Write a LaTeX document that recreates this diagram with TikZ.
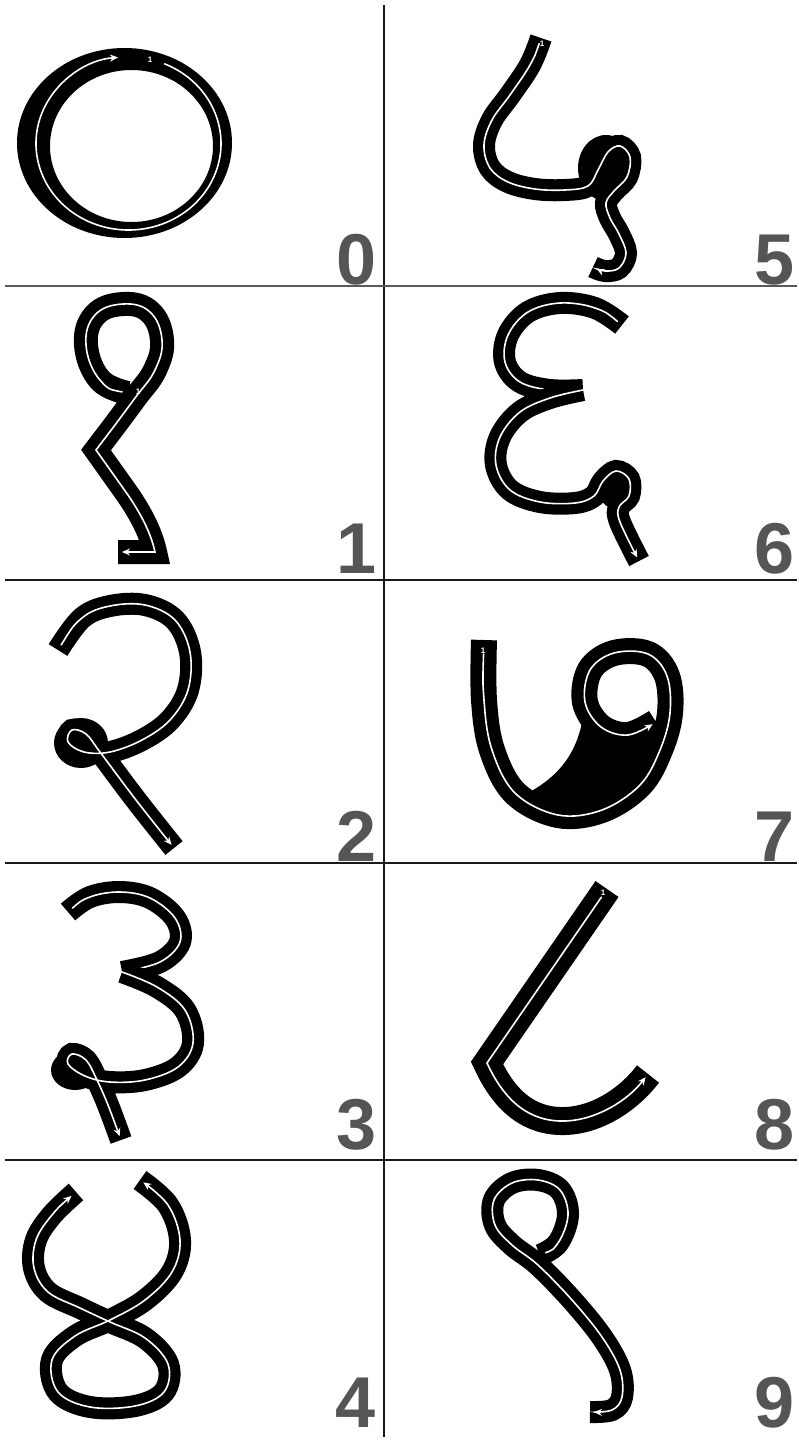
\documentclass[tikz,border=0pt]{standalone}
\usepackage{fontspec}
\setmainfont{Liberation Sans}
\usetikzlibrary{arrows.meta}
\definecolor{numgray}{HTML}{555555}

\begin{document}
\begin{tikzpicture}[x=1pt, y=-1pt,
  rule/.style={draw=black!90, line width=2.4pt},
  digit/.style={anchor=south east, inner sep=0pt, text=numgray,
    font=\fontsize{72}{72}\selectfont\bfseries},
  trace/.style={draw=white, line width=1.6pt, line cap=round,
    shorten <=6pt, shorten >=4pt},
  ink/.style={trace, preaction={draw=black, line width=#1, -,
    shorten <=0pt, shorten >=0pt, line cap=butt, line join=miter}},
  ink/.default=22pt,
  fwd/.style={-{Stealth[length=8pt, width=7pt]}},
  twoway/.style={{Stealth[length=8pt, width=7pt]}-{Stealth[length=8pt, width=7pt]}},
  mark1/.style={text=white, inner sep=0pt,
    font=\fontsize{8}{8}\selectfont\bfseries},
]
  \useasboundingbox[fill=white] (0,0) rectangle (798,1440);

  % grid
  \draw[rule] (384,5) -- (384,1437);
  \draw[rule, draw=black!65, line width=2pt] (5,286) -- (797,286);
  \draw[rule] (5,580) -- (797,580);
  \draw[rule] (5,863) -- (797,863);
  \draw[rule] (5,1160) -- (797,1160);

  % numbers
  \node[digit] (n0) at (377,285) {0};
  \node[digit] (n1) at (377,574) {1};
  \node[digit] (n2) at (377,862) {2};
  \node[digit] (n3) at (377,1150) {3};
  \node[digit] (n4) at (376,1428) {4};
  \node[digit] (n5) at (795,285) {5};
  \node[digit] (n6) at (795,574) {6};
  \node[digit] (n7) at (795,862) {7};
  \node[digit] (n8) at (795,1150) {8};
  \node[digit] (n9) at (795,1428) {9};

  % 0
  \coordinate (c0) at (128.5,143.5);
  \fill[black, even odd rule] (124.5,143) ellipse[x radius=107.5, y radius=95]
    (131.5,146) ellipse[x radius=81.5, y radius=76];
  \draw[trace, fwd, shorten <=0pt] ([shift={(293:92.5 and 86.5)}]c0)
    arc[start angle=293, end angle=626, x radius=92.5, y radius=86.5];
  \node[mark1] (m0) at (150,60) {1};

  % 1
  \draw[ink=24pt, fwd] plot[smooth, tension=0.7] coordinates {(128,393) (100,380)
    (86,345) (95,315) (123,304) (150,312) (162,340) (155,370) (135,398) (115,425)}
    -- (96,450) -- (128,495) .. controls (145,520) and (152,538) .. (155,552) -- (118,552);
  \node[mark1] (m1) at (138,392) {1};

  % 2
  \fill[black] (81,743) ellipse[x radius=27, y radius=25];
  \draw[ink, fwd] plot[smooth, tension=0.6] coordinates {(58,650) (82,618) (110,606)
    (145,605) (175,620) (190,652) (188,690) (170,720) (142,740) (110,752) (84,752)
    (68,742) (72,730) (86,734) (100,752) (136,800) (174,848)};

  % 3
  \fill[black] (75,1070) ellipse[x radius=24, y radius=20];
  \draw[ink, fwd] plot[smooth, tension=0.6] coordinates {(68,912) (90,897) (120,892)
    (150,898) (175,918) (180,942) (160,962) (122,972)};
  \draw[ink, fwd, shorten <=0pt] plot[smooth, tension=0.6] coordinates {(122,972)
    (157,987) (185,1010) (193,1043) (178,1067) (145,1080) (110,1082) (85,1076)
    (68,1064) (72,1054) (86,1060) (97,1080) (108,1105) (121,1140)};

  % 4
  \draw[ink, twoway] plot[smooth, tension=0.6] coordinates {(76,1192) (52,1215)
    (36,1240) (34,1268) (48,1292) (80,1308) (110,1322) (145,1338) (168,1364)
    (164,1392) (135,1406) (90,1407) (58,1392) (52,1360) (75,1336) (110,1320)
    (145,1300) (172,1272) (180,1240) (168,1205) (140,1180)};

  % 5
  \fill[black] (606,168) ellipse[x radius=28, y radius=33];
  \draw[ink, fwd] plot[smooth, tension=0.6] coordinates {(541,38) (530,65) (510,95)
    (492,120) (484,145) (490,168) (508,182) (535,189) (565,190) (588,186) (598,170)
    (608,152) (620,146) (630,157) (627,177) (614,191) (606,203) (610,218) (619,234)
    (626,253) (619,268) (605,271) (593,267)};
  \node[mark1] (m5) at (542,44) {1};

  % 6
  \fill[black] (616,486) ellipse[x radius=19, y radius=23];
  \draw[ink] plot[smooth, tension=0.6] coordinates {(622,325) (595,308) (560,303)
    (528,312) (508,335) (505,362) (520,382) (550,390) (583,390)};
  \draw[ink, fwd, shorten <=0pt] plot[smooth, tension=0.6] coordinates {(583,390)
    (550,398) (520,412) (500,437) (496,465) (510,490) (540,502) (575,503) (594,496)
    (603,481) (616,471) (629,479) (629,496) (619,507) (620,522) (639,561)};

  % 7
  \fill[black] (585,700) .. controls (582,745) and (565,775) .. (522,796)
    -- (558,815) -- (602,810) -- (640,785) -- (660,750) -- (640,725) -- (601,727) -- cycle;
  \draw[ink=26pt, fwd, shorten <=14pt] plot[smooth, tension=0.6] coordinates {(484,640)
    (484,700) (492,750) (515,793) (558,815) (602,810) (640,785) (660,750) (670,713)
    (667,676) (648,654) (614,653) (590,670) (585,702) (601,727) (628,735) (656,722)};
  \node[mark1] (m7) at (483,651) {1};

  % 8
  \draw[ink=28pt, fwd, shorten <=10pt] (607,889) -- (487,1063)
    .. controls (505,1102) and (530,1122) .. (565,1121)
    .. controls (597,1120) and (628,1100) .. (648,1074);
  \node[mark1] (m8) at (603,893) {1};

  % 9
  \draw[ink, fwd] plot[smooth, tension=0.6] coordinates {(540,1255) (558,1243)
    (568,1215) (560,1190) (538,1180) (512,1183) (494,1200) (495,1225) (512,1245)
    (538,1265) (572,1300) (602,1337) (620,1370) (622,1397) (612,1410) (590,1412)};
\end{tikzpicture}
\end{document}
